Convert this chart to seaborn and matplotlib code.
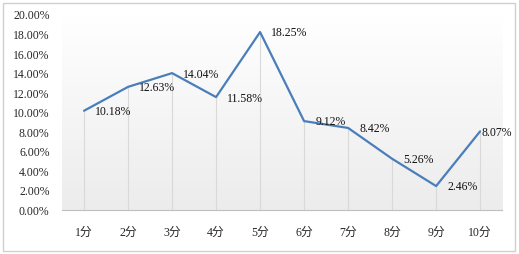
import numpy as np
import pandas as pd
import seaborn as sns
import matplotlib.pyplot as plt
from matplotlib.colors import LinearSegmentedColormap
from matplotlib.patches import Rectangle
from matplotlib.ticker import PercentFormatter

# data
labels = ['1分', '2分', '3分', '4分', '5分', '6分', '7分', '8分', '9分', '10分']
rates = [10.18, 12.63, 14.04, 11.58, 18.25, 9.12, 8.42, 5.26, 2.46, 8.07]

df = pd.DataFrame({'pos': np.arange(len(labels)), 'rate': rates})

sns.set_style('white')
plt.rcParams['font.family'] = ['Liberation Serif', 'Noto Sans CJK SC']
plt.rcParams['font.size'] = 8

fig = plt.figure(figsize=(5.19, 2.54), dpi=100)
ax = fig.add_axes([0.1195, 0.173, 0.848, 0.768])

# chart frame
fig.patches.append(Rectangle((0.006, 0.012), 0.986, 0.976, transform=fig.transFigure,
                             facecolor='none', edgecolor='#d0d0d0', lw=1.0, zorder=0))

# gradient background in plot area (white at top, light gray at bottom)
grad = np.linspace(0.0, 1.0, 256).reshape(-1, 1)
cmap = LinearSegmentedColormap.from_list('g', ['#ececec', '#ffffff'])
ax.imshow(grad, cmap=cmap, extent=[-0.5, len(labels) - 0.5, 0, 20],
          aspect='auto', origin='lower', zorder=0)

# drop lines
ax.vlines(df['pos'], 0, df['rate'], colors='#d9d9d9', lw=0.8, zorder=1)

sns.lineplot(data=df, x='pos', y='rate', color='#4a7ebb', lw=1.6, sort=False, ax=ax, zorder=3)

for i, (x, y) in enumerate(zip(df['pos'], df['rate'])):
    dx = 1 if i == len(labels) - 1 else 8
    ax.annotate(f'{y:.2f}%', (x, y), xytext=(dx, -1), textcoords='offset points',
                ha='left', va='center', fontsize=8.5, color='#111111', zorder=4)

ax.set_xlim(-0.5, len(labels) - 0.5)
ax.set_ylim(0, 20)
ax.set_yticks(np.arange(0, 21, 2))
ax.yaxis.set_major_formatter(PercentFormatter(decimals=2))
ax.set_xticks(df['pos'])
ax.set_xticklabels(labels)
ax.set_xticks(np.arange(-0.5, len(labels), 1), minor=True)
ax.tick_params(axis='x', which='major', length=0, pad=12, labelsize=8.5)
ax.tick_params(axis='x', which='minor', length=3, color='#bfbfbf', direction='out')
ax.tick_params(axis='y', length=0, pad=9, labelsize=8.5)
ax.set_xlabel('')
ax.set_ylabel('')
for s in ['top', 'right', 'left']:
    ax.spines[s].set_visible(False)
ax.spines['bottom'].set_color('#bfbfbf')
ax.spines['bottom'].set_linewidth(0.8)
ax.set_facecolor('white')

fig.savefig('out.png', dpi=100)
